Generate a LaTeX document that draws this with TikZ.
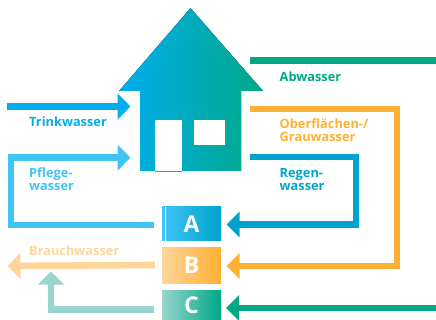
\documentclass[tikz,border=0pt]{standalone}
\usepackage{fontspec}
\setmainfont{Open Sans}
\usetikzlibrary{arrows.meta}

\definecolor{trinkblue}{HTML}{00AEEF}
\definecolor{pflegeblue}{HTML}{40C4F4}
\definecolor{regenblue}{HTML}{00A3CF}
\definecolor{abgreen}{HTML}{00A886}
\definecolor{grauorange}{HTML}{FFB033}
\definecolor{brauchorange}{HTML}{FFD59A}
\definecolor{paleteal}{HTML}{97D5CE}

\tikzset{
  flow/.style={line width=6.6pt, draw=#1},
  flowtip/.style={line width=6.6pt, draw=#1, -{Triangle[length=13pt,width=25.5pt]}},
  letterbox/.style n args={3}{minimum width=59pt, minimum height=#3, inner sep=0pt,
    left color=#1, right color=#2, text=white, font=\fontsize{23}{23}\selectfont\bfseries},
  waterlabel/.style={text=#1, anchor=base west, align=left, inner sep=0pt,
    font=\fontsize{12.8}{13.8}\selectfont\bfseries}
}

\begin{document}
\begin{tikzpicture}[x=1pt, y=-1pt]
      \useasboundingbox (0,0) rectangle (436,320);
      % Haus
      \fill[left color=trinkblue, middle color=trinkblue, right color=abgreen]
        (190.5,8) -- (263,91) -- (241,91) -- (241,171) -- (140,171) -- (140,91) -- (119,91) -- cycle;
      \fill[white] (154.5,120) rectangle (181.5,171.5);
      \draw[trinkblue, line width=0.7pt] (154.5,171.8) -- (181.5,171.8);
      \fill[white] (193.7,120) rectangle (225,145);

      % Kästen
      \node[letterbox={pflegeblue}{regenblue}{34pt}] (boxA) at (191.5,224) {A};
      \node[letterbox={brauchorange}{grauorange}{35pt}] (boxB) at (191.5,265.5) {B};
      \node[letterbox={paleteal}{abgreen}{30pt}] (boxC) at (191.5,305) {\raisebox{-3pt}{C}};
      \draw[white, line width=0.7pt] (165.3,207) -- (165.3,241);

      % Zufluss zum Haus
      \coordinate (trinkStart) at (7,106.5);
      \coordinate (trinkEnd) at (130.5,106.5);
      \draw[flowtip=trinkblue] (trinkStart) -- (trinkEnd);
      \node[waterlabel=trinkblue] (trinkLabel) at (29,127) {Trinkwasser};

      \coordinate (pflegeEnd) at (130.5,157.7);
      \coordinate (pflegeCorner) at (10.8,225);
      \draw[flowtip=pflegeblue] ([xshift=-8pt, yshift=-1pt]boxA.west) -- (pflegeCorner) |- (pflegeEnd);
      \node[waterlabel=pflegeblue] (pflegeLabel) at (29,191) {Pflege-\\wasser};

      % Abfluss
      \coordinate (abStart) at (250,60.7);
      \coordinate (abEnd) at (436,60.7);
      \draw[flow=abgreen] (abStart) -- (abEnd);
      \node[waterlabel=abgreen] (abLabel) at (279.5,81.7) {Abwasser};

      \coordinate (grauStart) at (250,109);
      \coordinate (grauCorner) at (397,109);
      \draw[flowtip=grauorange] (grauStart) -- (grauCorner) |- ([xshift=5.5pt, yshift=-0.5pt]boxB.east);
      \node[waterlabel=grauorange] (grauLabel) at (279.5,142) {Oberflächen-/\\Grauwasser};

      \coordinate (regenStart) at (250,157);
      \coordinate (regenCorner) at (356,157);
      \draw[flowtip=regenblue] (regenStart) -- (regenCorner) |- ([xshift=5.5pt, yshift=-0.5pt]boxA.east);
      \node[waterlabel=regenblue] (regenLabel) at (279.5,191) {Regen-\\wasser};

      % Brauchwasser
      \coordinate (brauchEnd) at (7.5,266);
      \draw[flowtip=brauchorange] ([xshift=-7pt, yshift=0.5pt]boxB.west) -- (brauchEnd);
      \node[waterlabel=brauchorange] (brauchLabel) at (29,255) {Brauchwasser};

      \coordinate (rueckEnd) at (51,271.5);
      \draw[flowtip=paleteal] ([xshift=-8pt, yshift=-4.7pt]boxC.west) -| (rueckEnd);

      \coordinate (abwStart) at (436,308);
      \draw[flowtip=abgreen] (abwStart) -- ([xshift=5pt, yshift=-3pt]boxC.east);
\end{tikzpicture}
\end{document}
